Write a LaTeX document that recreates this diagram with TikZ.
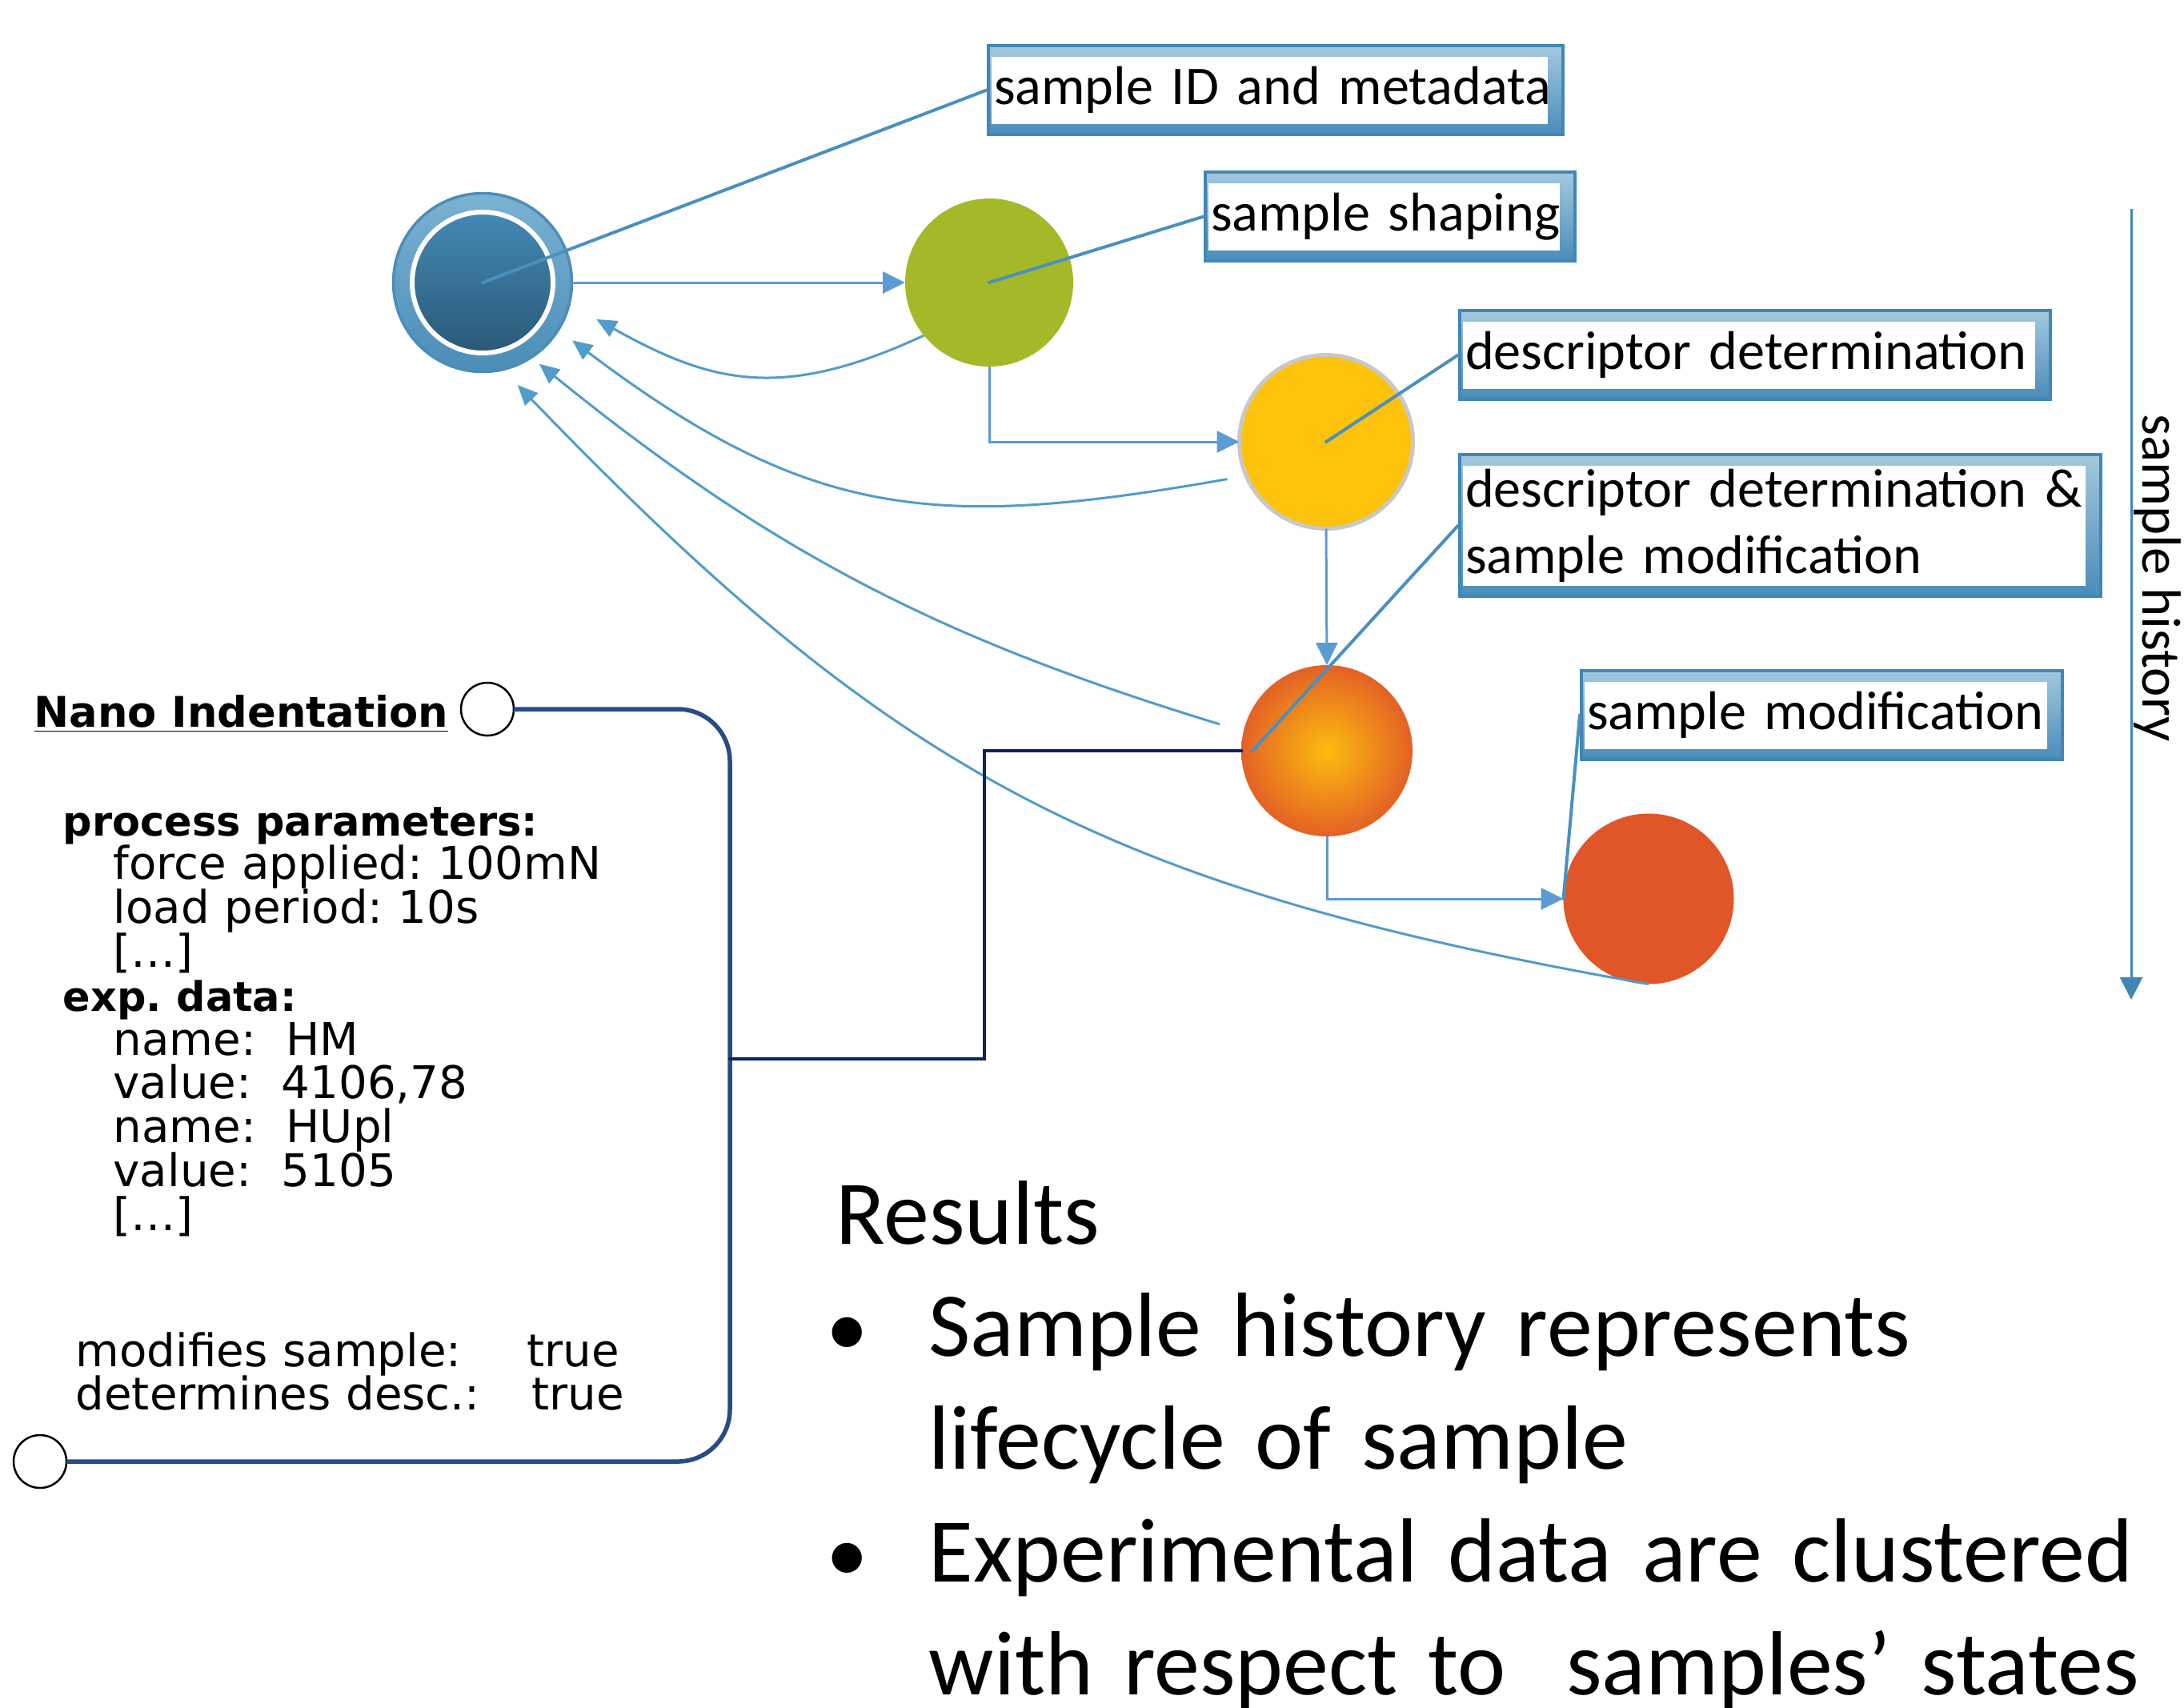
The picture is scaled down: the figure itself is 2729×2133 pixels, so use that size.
\documentclass[tikz,border=0pt]{standalone}
\usepackage{fontspec}
\setmainfont{Carlito}
\newfontfamily\panelfont{DejaVu Sans}
\usetikzlibrary{arrows.meta}
\frenchspacing

\definecolor{tagedge}{HTML}{4187B5}
\definecolor{taglight}{HTML}{A3C8DF}
\definecolor{tagdark}{HTML}{4A8CB9}
\definecolor{leaderblue}{HTML}{4A90BF}
\definecolor{flowblue}{HTML}{5B9BD5}
\definecolor{backblue}{HTML}{519CC8}
\definecolor{rootring}{HTML}{4A8DB8}
\definecolor{rootlight}{HTML}{7CB2D2}
\definecolor{coretop}{HTML}{4389B4}
\definecolor{corebot}{HTML}{2B5977}
\definecolor{shapegreen}{HTML}{A5B828}
\definecolor{descyellow}{HTML}{FDC20C}
\definecolor{ringgrey}{HTML}{C8C8C8}
\definecolor{modorange}{HTML}{E05628}
\definecolor{hotcore}{HTML}{FCBD0F}
\definecolor{bracketblue}{HTML}{274B85}
\definecolor{linknavy}{HTML}{0C2463}

\pgfdeclareradialshading{hotspot}{\pgfpoint{0bp}{0bp}}{color(0bp)=(hotcore); color(28bp)=(modorange); color(75bp)=(modorange)}

\begin{document}
\begin{tikzpicture}[
    x=0.1mm, y=0.1mm, % one unit is one pixel of the layout
    stage/.style={circle, inner sep=0pt, outer sep=0pt}, % the sample states
    tagbox/.style={
        rectangle, anchor=north west, % boxes are placed by their corner
        draw=tagedge, line width=0.4mm,
        top color=taglight, bottom color=tagdark, % bevelled frame
        minimum height=11.1mm, inner xsep=0.7mm, inner ysep=0pt,
        align=left, font=\fontsize{19.4}{23.6}\selectfont,
        path picture={\fill[white] ([xshift=0.4mm,yshift=-1.4mm]path picture bounding box.north west)
            rectangle ([xshift=-1.9mm,yshift=1.3mm]path picture bounding box.south east);}
    },
    leader/.style={draw=leaderblue, line width=0.4mm, line cap=round}, % box to state
    flow/.style={draw=flowblue, line width=0.3mm, -{Triangle[length=2.8mm,width=2.7mm]}},
    backflow/.style={draw=backblue, line width=0.3mm, -{Triangle[length=2.5mm,width=2.2mm]}},
    history/.style={draw=tagedge, line width=0.3mm, -{Triangle[length=2.8mm,width=2.8mm]}},
    port/.style={circle, draw=black, fill=white, line width=0.25mm, minimum size=6.6mm, inner sep=0pt, outer sep=0pt},
    bracket/.style={draw=bracketblue, line width=0.55mm, rounded corners=6.5mm},
    link/.style={draw=linknavy, line width=0.45mm, line cap=round},
    params/.style={anchor=base west, align=left, inner sep=0pt,
        font={\panelfont\fontsize{16}{15.6}\selectfont\lineskiplimit=-\maxdimen}}
]
\useasboundingbox (0,0) rectangle (2729,-2133);

% sample states
\node[stage, minimum size=22.3mm, draw=rootring, line width=0.35mm,
      top color=rootlight, bottom color=rootring] (root) at (603,-353) {};
\node[stage, minimum size=17.6mm, draw=white, line width=0.6mm,
      top color=coretop, bottom color=corebot] (rootcore) at (root) {};
\node[stage, minimum size=21mm, fill=shapegreen] (shaping) at (1236,-353) {};
\node[stage, minimum size=21.7mm, fill=descyellow, draw=ringgrey, line width=0.5mm] (descr) at (1657,-552) {};
\node[stage, minimum size=21.4mm, shading=hotspot] (descrmod) at (1658,-938) {};
\node[stage, minimum size=21.3mm, fill=modorange] (modif) at (2060,-1123) {};

% labels of the states
\node[tagbox, text width=70.4mm] (tagid) at (1233,-55) {sample ID and metadata};
\node[tagbox, text width=44.8mm] (tagshape) at (1504,-213) {sample shaping};
\node[tagbox, text width=72.4mm] (tagdescr) at (1822,-386) {descriptor determination};
\node[tagbox, text width=78.7mm, minimum height=17.7mm] (tagboth) at (1822,-566)
    {descriptor determination \&\\ sample modification};
\node[tagbox, text width=58.7mm] (tagmodif) at (1974,-836) {sample modification};

% forward steps
\draw[flow] (root.east) -- (shaping.west);
\draw[flow] (shaping.south) |- (descr.west);
\draw[flow] (descr.south) -- (descrmod.north);
\draw[flow] (descrmod.south) |- (modif.west);

% links back to the sample
\draw[backflow, shorten >=3.9mm] (shaping.219) to[out=205, in=-29, looseness=1.15] (root.-14);
\draw[backflow, shorten <=2.4mm, shorten >=2.2mm] (descr.203) to[out=190, in=-37, looseness=1.15] (root.-32);
\draw[backflow, shorten <=3.1mm, shorten >=1.3mm] (descrmod.167) to[out=163, in=-39] (root.-57);
\draw[backflow, shorten >=2.7mm] (modif.south) to[out=170, in=-46, looseness=1.1] (root.-77);

% leaders
\draw[leader] (tagid.west) -- (root.center);
\draw[leader] (tagshape.west) -- (shaping.center);
\draw[leader] (tagdescr.west) -- (descr.center);
\draw[leader] (tagboth.west) -- ([xshift=1.4mm]descrmod.west);
\draw[leader] (tagmodif.west) -- (modif.west);

% time axis
\coordinate (histtop) at (2663,-261);
\coordinate (histend) at (2663,-1249);
\draw[history] (histtop) -- (histend);
\node[rotate=-90, font=\fontsize{19.6}{23}\selectfont] (histlabel) at (2696,-722) {sample history};

% process step
\node[port] (nanoin) at (609,-886) {};
\node[port] (nanoout) at (50,-1826) {};
\coordinate (tap) at (912,-1323);
\coordinate (bend) at (1230,-938);
\draw[bracket] (nanoin.east) -| (tap) |- (nanoout.east);
\draw[link] (tap) -| (bend) -- (descrmod.west);

\node[anchor=base west, inner sep=0pt, font=\panelfont\fontsize{15}{18}\selectfont\bfseries]
    (nanotitle) at (42,-908) {\underline{Nano Indentation}};
\node[params, text width=80mm] (procparams) at (78,-1044) {%
    {\fontsize{14.5}{15.6}\selectfont\bfseries process parameters:}\\
    \hspace*{6.3mm}force applied: 100mN\\
    \hspace*{6.3mm}load period: 10s\\
    \hspace*{6.3mm}[…]\\
    {\fontsize{14.5}{15.6}\selectfont\bfseries exp. data:}\\
    \hspace*{6.3mm}name:\ \ HM\\
    \hspace*{6.3mm}value:\ \ 4106,78\\
    \hspace*{6.3mm}name:\ \ HUpl\\
    \hspace*{6.3mm}value:\ \ 5105\\
    \hspace*{6.3mm}[…]};
\node[params, text width=80mm] (procflags) at (94,-1707) {%
    \makebox[56.4mm][l]{modifies sample:}true\\
    \makebox[57mm][l]{determines desc.:}true};

% results
\node[anchor=base west, align=left, inner sep=0pt, text width=175mm,
      font=\fontsize{32.4}{40.1}\selectfont] (results) at (1044,-1554) {%
    Results\\
    \makebox[11.6mm][l]{\hspace*{-1.2mm}{\fontsize{30}{30}\selectfont\textbullet}}Sample history represents\\
    \hspace*{11.6mm}lifecycle of sample\\
    \makebox[11.6mm][l]{\hspace*{-1.2mm}{\fontsize{30}{30}\selectfont\textbullet}}Experimental data are clustered\\
    \hspace*{11.6mm}with respect to\ \ samples’ states};
\end{tikzpicture}
\end{document}
